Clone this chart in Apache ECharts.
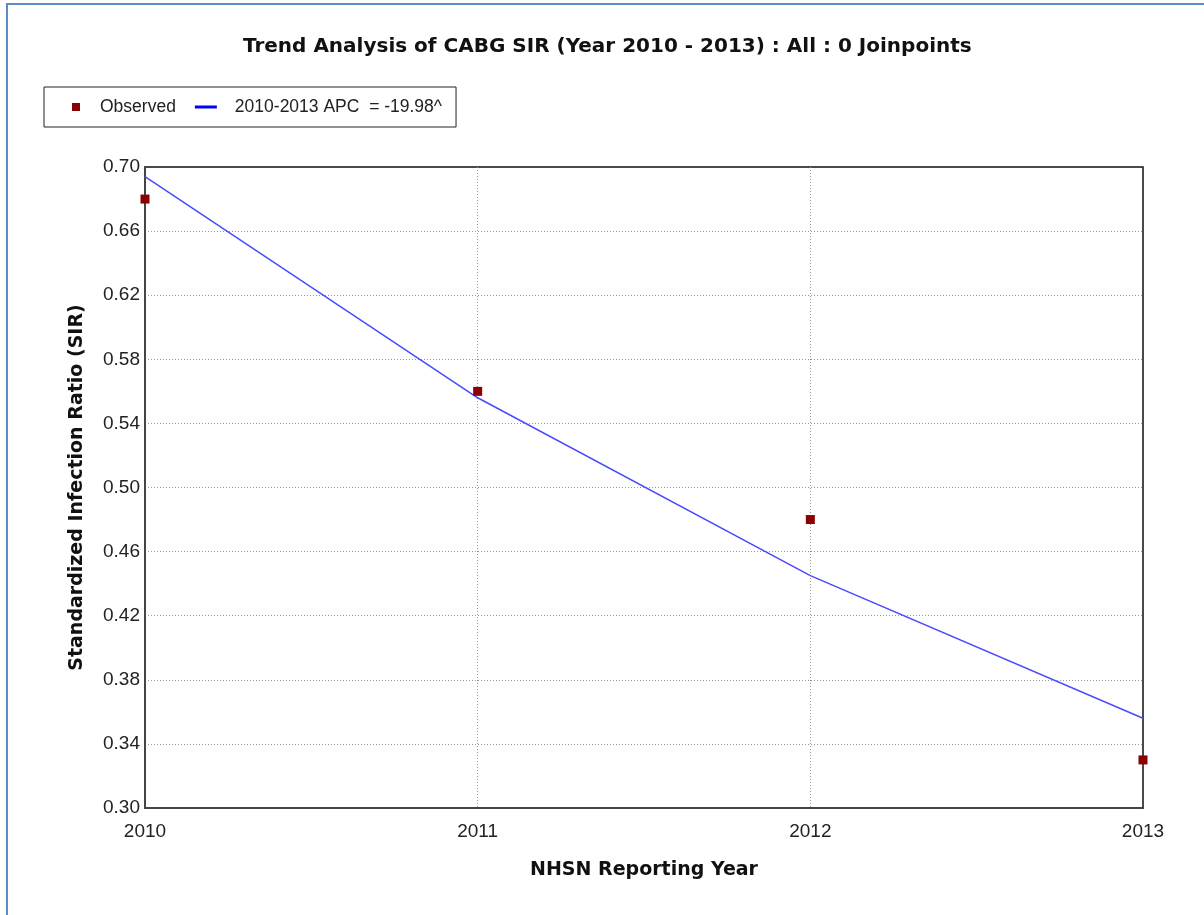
<!DOCTYPE html>
<html>
<head>
<meta charset="utf-8">
<script src="https://cdn.jsdelivr.net/npm/echarts@6/dist/echarts.min.js"></script>
<style>
html, body { margin: 0; padding: 0; background: #fff; }
#main { width: 1204px; height: 915px; }
</style>
</head>
<body>
<div id="main"></div>
<script>
// reporting years and SIR values
var years = [2010, 2011, 2012, 2013];
var observed = [0.68, 0.56, 0.48, 0.33];
var fitted = [0.694, 0.556, 0.445, 0.356];
var seriesNames = ["Observed", "2010-2013 APC  = -19.98^"];

function pairs(xs, ys) {
  return xs.map(function (x, i) { return [x, ys[i]]; });
}

var chart = echarts.init(document.getElementById("main"));
chart.setOption({
  backgroundColor: "#fff",
  animation: false,
  title: {
    text: "Trend Analysis of CABG SIR (Year 2010 - 2013) : All : 0 Joinpoints",
    left: 243,
    top: 37,
    padding: 0,
    textStyle: {
      fontFamily: "DejaVu Sans",
      fontWeight: "bold",
      fontSize: 20,
      color: "#111"
    }
  },
  legend: {
    left: 44,
    top: 87,
    orient: "horizontal",
    borderColor: "#222",
    borderWidth: 1,
    padding: [11, 14, 11, 28],
    itemWidth: 22,
    itemHeight: 8,
    itemGap: 19,
    textStyle: {
      fontFamily: "Liberation Sans",
      fontSize: 17.5,
      color: "#222",
      padding: [0, 0, 0, 8]
    },
    data: [
      { name: seriesNames[0], icon: "path://M0,0h1v1h-1z", itemStyle: { color: "#8b0000" } },
      {
        name: seriesNames[1],
        icon: "path://M0,0h22v3h-22z",
        itemStyle: { color: "#0000ff" },
        textStyle: { padding: [0, 0, 0, 13] }
      }
    ]
  },
  grid: {
    left: 145,
    right: 61,
    top: 167,
    bottom: 107,
    show: true,
    borderColor: "#111",
    borderWidth: 1.5
  },
  xAxis: {
    type: "value",
    min: 2010,
    max: 2013,
    interval: 1,
    name: "NHSN Reporting Year",
    nameLocation: "middle",
    nameGap: 53,
    nameTextStyle: {
      fontFamily: "DejaVu Sans",
      fontWeight: "bold",
      fontSize: 19,
      color: "#111"
    },
    axisLine: { show: true, lineStyle: { color: "#444", width: 2 } },
    axisTick: { show: false },
    axisLabel: {
      margin: 14,
      fontFamily: "Liberation Sans",
      fontSize: 19,
      color: "#222",
      formatter: function (v) { return String(v); }
    },
    splitLine: {
      show: true,
      showMinLine: false,
      showMaxLine: false,
      lineStyle: { color: "#999", type: [1, 2], width: 1 }
    }
  },
  yAxis: {
    type: "value",
    min: 0.30,
    max: 0.70,
    interval: 0.04,
    name: "Standardized Infection Ratio (SIR)",
    nameLocation: "middle",
    nameGap: 58,
    nameTextStyle: {
      fontFamily: "DejaVu Sans",
      fontWeight: "bold",
      fontSize: 19,
      color: "#111"
    },
    axisLine: { show: true, lineStyle: { color: "#444", width: 2 } },
    axisTick: { show: false },
    axisLabel: {
      margin: 5,
      fontFamily: "Liberation Sans",
      fontSize: 19,
      color: "#222",
      formatter: function (v) { return v.toFixed(2); }
    },
    splitLine: {
      show: true,
      showMinLine: false,
      showMaxLine: false,
      lineStyle: { color: "#999", type: [1, 2], width: 1 }
    }
  },
  graphic: [
    {
      type: "rect",
      silent: true,
      shape: { x: 7, y: 4, width: 1300, height: 1000 },
      style: { fill: "none", stroke: "#5b8cc8", lineWidth: 2 }
    }
  ],
  series: [
    {
      name: seriesNames[1],
      type: "line",
      data: pairs(years, fitted),
      symbol: "none",
      lineStyle: { color: "#4a4aff", width: 1.5 },
      itemStyle: { color: "#0000ff" },
      z: 3
    },
    {
      name: seriesNames[0],
      type: "scatter",
      data: pairs(years, observed),
      symbol: "rect",
      symbolSize: 9,
      clip: false,
      itemStyle: { color: "#8b0000", opacity: 1 },
      z: 4
    }
  ]
});
</script>
</body>
</html>
